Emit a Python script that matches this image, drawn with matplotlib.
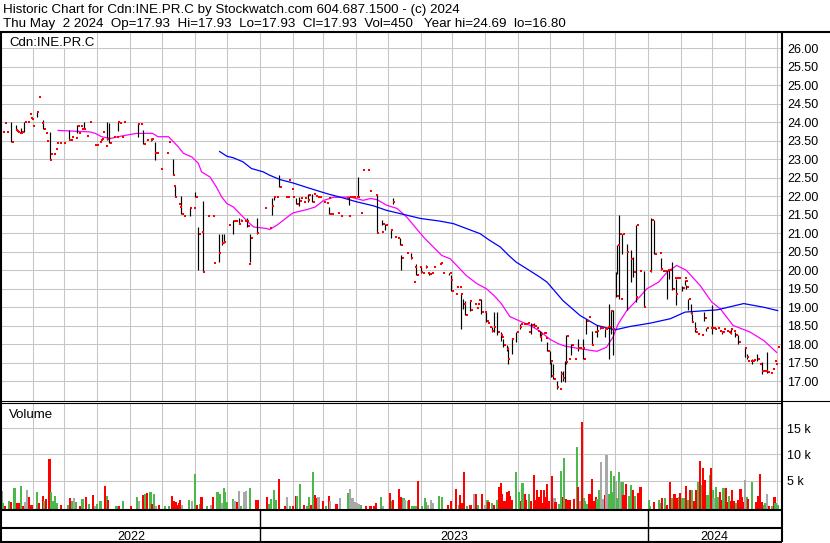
import numpy as np
import pandas as pd
import matplotlib
matplotlib.use("Agg")
import matplotlib.pyplot as plt
from matplotlib.lines import Line2D
from matplotlib.patches import Rectangle
from matplotlib.ticker import FormatStrFormatter
from matplotlib.transforms import ScaledTranslation

plt.rcParams['font.family'] = ['Liberation Sans', 'DejaVu Sans']

# --- data (day = days since 2022-05-02) ---
start_date = '2022-05-02'

close_day = [2, 4, 6, 10, 14, 15, 16, 18, 19, 20, 22, 25, 27, 28, 29, 30, 34, 36, 38, 40,
             42, 43, 46, 47, 50, 52, 53, 55, 59, 64, 66, 67, 70, 72, 73, 75, 76, 78, 81, 84,
             88, 90, 93, 94, 95, 96, 99, 100, 102, 106, 109, 110, 112, 114, 116, 129, 132, 134, 137, 141,
             142, 145, 147, 150, 156, 158, 162, 163, 164, 167, 168, 170, 172, 178, 181, 183, 186, 189, 190, 195,
             199, 200, 205, 208, 210, 214, 219, 221, 224, 226, 229, 231, 232, 233, 235, 241, 248, 253, 255, 257,
             260, 262, 268, 270, 271, 274, 275, 278, 281, 282, 285, 286, 289, 290, 293, 294, 296, 298, 300, 304,
             307, 308, 309, 311, 317, 320, 325, 327, 328, 330, 332, 335, 336, 339, 340, 345, 347, 353, 354, 358,
             359, 362, 367, 369, 371, 373, 376, 377, 382, 386, 388, 389, 391, 394, 395, 397, 400, 402, 403, 405,
             407, 413, 414, 416, 422, 423, 424, 428, 429, 432, 433, 435, 437, 441, 442, 446, 448, 449, 450, 452,
             455, 457, 458, 460, 462, 464, 467, 470, 471, 473, 476, 477, 481, 485, 488, 489, 492, 494, 496, 497,
             499, 501, 502, 504, 505, 507, 508, 511, 512, 513, 514, 517, 518, 520, 523, 526, 527, 529, 531, 532,
             534, 537, 540, 543, 545, 547, 548, 551, 553, 556, 559, 561, 563, 564, 565, 568, 569, 571, 572, 574,
             576, 579, 580, 582, 583, 585, 589, 593, 595, 597, 598, 601, 605, 610, 612, 615, 620, 621, 623, 625,
             627, 629, 632, 634, 635, 636, 638, 641, 643, 644, 645, 647, 649, 650, 653, 654, 656, 659, 662, 664,
             668, 669, 671, 672, 674, 676, 678, 679, 680, 683, 685, 686, 687, 689, 691, 694, 700, 702, 703, 705,
             707, 708, 712, 714, 716, 718, 719, 720, 721, 724, 726, 728, 729, 731]
close_px = [23.74, 23.99, 23.74, 23.47, 23.79, 23.77, 23.75, 23.72, 23.72, 23.75, 24.00, 24.00, 24.23, 24.12, 24.10, 23.90, 24.27, 24.69, 23.99, 23.83,
            23.70, 23.50, 22.98, 23.15, 23.15, 23.28, 23.45, 23.45, 23.45, 23.52, 23.52, 23.60, 23.58, 23.90, 23.70, 23.90, 23.83, 23.83, 23.62, 24.01,
            23.38, 23.38, 23.47, 23.52, 23.56, 23.74, 23.36, 23.56, 23.43, 23.59, 23.59, 24.00, 23.98, 23.59, 24.00, 23.95, 23.95, 23.41, 23.52, 23.52,
            23.54, 23.17, 23.17, 22.73, 23.17, 23.47, 22.57, 22.28, 21.98, 21.78, 21.70, 21.53, 21.46, 21.68, 21.68, 21.98, 20.97, 21.03, 19.95, 21.47,
            21.47, 20.20, 20.47, 20.75, 20.77, 21.22, 21.33, 21.33, 21.26, 21.33, 21.33, 21.33, 21.19, 20.18, 20.87, 21.00, 21.68, 21.13, 21.74, 21.98,
            21.98, 22.25, 21.98, 21.98, 22.43, 22.19, 21.98, 21.80, 21.88, 21.96, 21.85, 21.96, 21.90, 22.03, 21.85, 22.07, 22.00, 21.98, 21.98, 21.85,
            21.82, 21.94, 21.53, 21.53, 21.55, 21.46, 21.96, 21.46, 21.98, 21.98, 21.98, 21.98, 21.98, 21.55, 22.72, 22.72, 22.14, 22.03, 21.01, 21.03,
            21.26, 21.22, 21.10, 21.85, 20.90, 20.87, 20.67, 20.33, 20.47, 20.33, 19.68, 20.09, 19.87, 20.10, 19.95, 19.92, 20.09, 19.92, 19.90, 19.92,
            20.09, 20.16, 20.20, 19.93, 19.92, 19.75, 19.44, 19.35, 19.56, 19.56, 19.36, 19.10, 18.80, 19.17, 18.93, 19.08, 18.97, 19.08, 19.20, 18.87,
            18.87, 18.62, 18.57, 18.48, 18.37, 18.48, 18.33, 18.24, 18.19, 17.99, 17.88, 17.60, 18.15, 18.33, 18.46, 18.55, 18.55, 18.55, 18.57, 18.33,
            18.52, 18.50, 18.50, 18.44, 18.37, 18.19, 18.28, 18.30, 18.30, 18.17, 17.83, 17.55, 17.13, 17.06, 16.85, 16.80, 17.20, 17.10, 17.51, 18.21,
            17.60, 17.99, 17.60, 17.90, 17.90, 17.90, 17.60, 18.64, 18.73, 17.97, 18.33, 18.37, 18.44, 18.45, 18.45, 18.45, 18.42, 18.48, 18.48, 18.90,
            18.42, 19.30, 20.67, 20.99, 19.23, 20.99, 20.49, 20.31, 19.95, 19.27, 21.22, 19.98, 19.02, 19.98, 21.37, 20.45, 20.47, 20.04, 19.98, 19.98,
            20.00, 20.00, 19.50, 19.80, 19.35, 19.80, 19.80, 19.52, 19.80, 19.70, 19.56, 19.23, 18.85, 18.60, 18.40, 18.33, 18.28, 18.24, 18.72, 18.44,
            18.45, 18.45, 18.45, 18.42, 18.44, 18.37, 18.33, 18.33, 18.42, 18.37, 18.34, 18.30, 18.42, 18.37, 18.26, 18.05, 17.90, 17.65, 17.56, 17.56,
            17.56, 17.57, 17.60, 17.47, 17.29, 17.29, 17.27, 17.29, 17.24, 17.21, 17.33, 17.56, 17.47, 17.93]

bar_day = [10, 14, 19, 22, 34, 40, 46, 64, 72, 78, 100, 102, 110, 129, 134, 141, 145, 162, 164, 170,
           178, 183, 186, 190, 205, 208, 210, 219, 224, 226, 232, 235, 241, 255, 257, 262, 278, 281, 289, 293,
           309, 328, 336, 354, 359, 362, 367, 369, 376, 377, 386, 391, 395, 400, 403, 422, 424, 433, 435, 437,
           442, 452, 457, 462, 464, 467, 471, 473, 476, 477, 481, 485, 489, 499, 502, 507, 508, 514, 517, 518,
           520, 523, 527, 529, 531, 532, 537, 543, 548, 551, 556, 561, 564, 569, 572, 574, 576, 579, 580, 582,
           585, 589, 593, 595, 598, 605, 612, 615, 621, 627, 629, 632, 635, 641, 644, 645, 647, 649, 650, 653,
           662, 664, 669, 679, 687, 691, 694, 700, 702, 707, 712, 716, 721]
bar_hi = [24.00, 23.92, 23.85, 24.00, 24.27, 24.06, 23.74, 23.79, 23.92, 24.00, 24.00, 23.98, 24.00, 23.97, 23.79, 23.57, 23.47, 23.00, 22.28, 22.00,
          21.68, 22.12, 21.17, 21.87, 20.99, 20.99, 20.99, 21.35, 21.40, 21.38, 21.42, 20.99, 21.40, 21.94, 21.98, 22.57, 21.95, 21.97, 22.07, 22.07,
          21.71, 21.98, 22.51, 22.03, 21.37, 21.26, 21.10, 21.96, 20.87, 20.40, 20.47, 20.16, 20.10, 20.13, 19.93, 19.92, 19.88, 19.37, 19.23, 19.18,
          19.18, 19.23, 18.87, 18.46, 18.87, 18.87, 18.33, 18.15, 17.99, 17.92, 18.17, 18.33, 18.55, 18.57, 18.57, 18.37, 18.33, 18.05, 17.83, 17.51,
          17.47, 17.02, 17.29, 17.29, 17.56, 18.24, 18.00, 18.15, 18.15, 18.69, 18.37, 18.51, 18.45, 18.42, 19.10, 18.92, 18.92, 19.95, 20.67, 21.49,
          20.99, 20.72, 20.54, 20.36, 21.22, 19.98, 21.40, 21.35, 20.34, 20.00, 20.00, 20.22, 19.77, 19.57, 19.73, 19.60, 19.23, 19.10, 18.82, 18.60,
          18.87, 18.44, 19.05, 18.37, 18.42, 18.33, 18.24, 17.92, 17.74, 17.60, 17.74, 17.51, 17.78]
bar_lo = [23.47, 23.79, 23.72, 23.75, 24.15, 23.83, 22.98, 23.52, 23.70, 23.83, 23.52, 23.43, 23.76, 23.61, 23.41, 23.50, 22.98, 22.57, 21.98, 21.53,
          21.46, 21.98, 20.00, 19.95, 20.22, 20.69, 20.75, 20.99, 21.26, 21.33, 21.17, 20.22, 20.99, 21.49, 21.90, 22.25, 21.80, 21.74, 21.85, 21.85,
          21.53, 21.76, 21.98, 21.01, 21.22, 21.10, 20.88, 21.78, 20.67, 20.00, 20.31, 19.86, 19.92, 20.05, 19.88, 19.86, 19.44, 18.42, 18.96, 18.78,
          18.90, 18.82, 18.60, 18.33, 18.33, 18.24, 18.10, 17.92, 17.83, 17.47, 17.74, 18.05, 18.40, 18.28, 18.46, 18.19, 18.10, 17.83, 17.47, 17.11,
          17.06, 16.79, 16.97, 17.02, 16.97, 17.47, 17.70, 17.83, 17.60, 18.28, 17.97, 18.19, 18.42, 18.19, 17.60, 18.28, 17.70, 19.27, 19.91, 19.23,
          20.45, 18.92, 19.68, 19.81, 19.14, 19.02, 19.95, 20.45, 20.00, 19.23, 19.77, 19.46, 19.05, 19.45, 19.60, 19.50, 18.92, 18.82, 18.60, 18.33,
          18.64, 18.37, 18.28, 18.28, 18.28, 18.20, 18.01, 17.65, 17.60, 17.47, 17.56, 17.20, 17.21]

# short moving average (magenta)
ma_short_day = [54, 84, 89, 95, 103, 114, 128, 143, 148, 158, 167, 172, 180, 186, 189, 197, 203, 208, 213, 219,
                225, 233, 238, 250, 253, 260, 269, 275, 288, 296, 304, 313, 329, 341, 348, 354, 363, 373, 382, 391,
                399, 407, 415, 423, 432, 438, 448, 457, 464, 471, 479, 489, 498, 507, 517, 525, 531, 545, 561, 570,
                576, 581, 589, 598, 608, 619, 627, 636, 645, 658, 669, 677, 689, 705, 718, 730]
ma_short_val = [23.78, 23.74, 23.70, 23.61, 23.56, 23.63, 23.70, 23.70, 23.61, 23.61, 23.34, 23.16, 23.06, 22.89, 22.66, 22.52, 22.25, 21.98, 21.80, 21.71,
                21.53, 21.30, 21.17, 21.13, 21.10, 21.22, 21.42, 21.55, 21.64, 21.71, 21.89, 21.97, 21.98, 21.89, 21.94, 21.91, 21.76, 21.67, 21.44, 21.13,
                20.86, 20.63, 20.40, 20.31, 20.04, 19.86, 19.64, 19.50, 19.32, 19.10, 18.75, 18.62, 18.51, 18.36, 18.13, 18.01, 17.95, 17.88, 17.81, 17.92,
                18.19, 18.55, 18.91, 19.18, 19.50, 19.68, 19.95, 20.13, 20.00, 19.59, 19.14, 18.96, 18.51, 18.33, 18.10, 17.78]

# long moving average (blue)
ma_long_day = [206, 213, 219, 228, 236, 247, 253, 263, 275, 288, 307, 319, 335, 351, 363, 379, 395, 413, 426, 438,
               451, 460, 470, 478, 485, 495, 507, 514, 529, 545, 561, 578, 592, 611, 630, 644, 674, 699, 718, 731]
ma_long_val = [23.21, 23.08, 23.04, 22.93, 22.75, 22.66, 22.57, 22.45, 22.36, 22.24, 22.07, 21.98, 21.85, 21.74, 21.62, 21.51, 21.40, 21.33, 21.26, 21.13,
               20.99, 20.81, 20.63, 20.40, 20.22, 20.04, 19.82, 19.68, 19.18, 18.78, 18.51, 18.39, 18.48, 18.57, 18.69, 18.87, 18.93, 19.10, 19.00, 18.91]

# volume: direction 1 = up (green), -1 = down (red), 0 = unchanged (grey)
vol_day = [1, 2, 4, 8, 10, 13, 15, 17, 19, 21, 23, 25, 27, 29, 34, 36, 40, 41, 43, 46,
           47, 49, 51, 53, 57, 63, 65, 67, 69, 71, 75, 77, 80, 83, 87, 89, 91, 94, 98, 100,
           101, 109, 111, 115, 123, 128, 130, 134, 136, 138, 141, 142, 144, 146, 149, 155, 158, 161, 163, 165,
           166, 168, 169, 171, 177, 180, 183, 185, 188, 189, 194, 198, 200, 204, 206, 208, 210, 211, 213, 219,
           220, 222, 224, 226, 229, 231, 235, 240, 242, 251, 253, 254, 257, 259, 262, 268, 269, 272, 275, 278,
           279, 282, 285, 288, 290, 292, 294, 296, 297, 299, 303, 306, 309, 310, 316, 319, 327, 329, 331, 333,
           335, 337, 339, 344, 348, 351, 353, 358, 360, 366, 368, 369, 375, 377, 379, 380, 383, 384, 387, 389,
           391, 393, 396, 399, 400, 402, 405, 407, 412, 415, 421, 424, 428, 431, 432, 434, 436, 439, 442, 445,
           447, 449, 453, 456, 458, 459, 462, 464, 467, 469, 471, 472, 474, 476, 478, 479, 481, 485, 488, 490,
           491, 493, 494, 497, 499, 502, 503, 505, 507, 508, 510, 511, 513, 514, 516, 519, 521, 522, 525, 527,
           529, 530, 532, 534, 536, 539, 542, 543, 545, 547, 549, 550, 552, 554, 556, 558, 560, 561, 563, 565,
           567, 569, 570, 572, 574, 576, 577, 579, 580, 582, 583, 585, 586, 588, 591, 593, 595, 597, 600, 602,
           610, 611, 615, 619, 620, 622, 625, 627, 630, 632, 634, 636, 638, 639, 641, 642, 644, 645, 647, 649,
           650, 652, 654, 656, 658, 660, 661, 663, 665, 667, 668, 670, 671, 673, 675, 677, 679, 680, 682, 684,
           685, 687, 688, 690, 692, 694, 696, 697, 699, 700, 702, 703, 707, 711, 713, 714, 716, 718, 719, 721,
           723, 726, 728, 729, 731]
vol_qty = [3030, 680, 80, 1130, 870, 3540, 680, 810, 3990, 240, 870, 3220, 1890, 360, 2840, 810, 2080, 1130, 1510, 9140,
           2840, 1130, 2140, 680, 360, 360, 1630, 1130, 1630, 1000, 170, 1510, 1950, 490, 2270, 240, 490, 1130, 3990, 2080,
           1250, 170, 80, 1130, 80, 1890, 1130, 2270, 2460, 2590, 2780, 620, 2460, 240, 360, 80, 80, 2080, 1130, 870,
           360, 680, 1250, 360, 1250, 1130, 6280, 360, 620, 1890, 80, 360, 1890, 2840, 2400, 740, 3610, 2910, 935, 1440,
           1130, 1000, 3030, 170, 2910, 3030, 3540, 1250, 1250, 1950, 490, 1440, 3220, 1250, 5320, 80, 1890, 80, 170, 2080,
           2080, 4310, 360, 80, 1950, 360, 6660, 2270, 1630, 1950, 1130, 170, 2140, 1130, 490, 1630, 2590, 3420, 1630, 1000,
           810, 620, 360, 80, 170, 170, 680, 1950, 80, 2590, 1130, 1250, 3420, 1830, 1630, 1250, 1130, 1250, 170, 170,
           170, 4940, 170, 1630, 870, 360, 1320, 680, 2080, 1950, 360, 1130, 3420, 360, 2270, 680, 6660, 240, 360, 2460,
           2400, 360, 2460, 360, 1320, 870, 680, 360, 1250, 3860, 4500, 2400, 1130, 2910, 3030, 2140, 1250, 6660, 2910, 1130,
           4620, 2460, 1250, 2460, 1130, 6090, 1250, 3220, 1950, 3220, 810, 3220, 1950, 4310, 1130, 5900, 1760, 870, 620, 6850,
           1950, 9400, 1510, 1320, 1320, 1510, 11430, 3860, 1130, 16270, 1630, 1130, 620, 2460, 5320, 1130, 1950, 1510, 3220, 8570,
           1440, 2270, 9900, 2520, 6850, 2910, 5900, 4940, 1630, 6600, 4820, 4750, 2270, 4310, 2080, 4180, 3220, 2080, 2720, 3860,
           1250, 170, 1000, 1320, 810, 1760, 1630, 360, 4750, 1760, 2520, 1630, 1830, 2720, 1700, 1760, 1760, 4050, 1250, 3220,
           3220, 1190, 3220, 4690, 8820, 4180, 7490, 5130, 2270, 6090, 7490, 3220, 1630, 3860, 1950, 2780, 1250, 3670, 3540, 1000,
           2080, 1130, 3220, 1130, 810, 1320, 3350, 1950, 870, 5130, 1950, 1440, 4750, 870, 2080, 6280, 1000, 360, 680, 2460,
           170, 170, 1950, 810, 450]
vol_dir = [0, 1, -1, 1, -1, 1, -1, -1, 1, -1, 0, 0, -1, -1, 1, -1, -1, 1, -1, -1,
           1, 1, 1, 1, -1, 1, -1, 1, 0, 1, -1, 1, -1, 1, -1, 0, 1, 1, -1, 1,
           -1, 1, -1, 1, -1, 1, 0, -1, 1, -1, 1, -1, 1, 0, -1, 1, 1, -1, -1, -1,
           -1, -1, -1, 0, 1, 0, 1, -1, 1, -1, 1, 0, -1, 1, 1, 0, 1, 1, 1, 1,
           0, -1, 0, 1, 0, 0, 1, -1, -1, -1, 1, 1, 1, 1, -1, -1, 0, 1, -1, -1,
           1, 1, -1, 1, 1, -1, 1, -1, -1, 0, -1, 1, -1, 0, -1, 0, 1, 0, 0, 0,
           0, 0, 1, -1, -1, -1, -1, 1, 0, -1, 1, -1, -1, -1, 1, 0, 1, -1, 1, 1,
           1, -1, 1, 1, 1, 0, 0, 0, 1, 1, -1, -1, -1, 1, -1, -1, -1, 1, -1, 0,
           -1, 1, -1, 0, 1, -1, 1, -1, 1, -1, -1, -1, -1, -1, -1, -1, -1, 1, 1, -1,
           1, -1, -1, 1, -1, -1, -1, -1, -1, -1, -1, -1, -1, -1, -1, -1, 0, -1, 1, 1,
           -1, 1, -1, -1, -1, -1, 1, -1, 0, -1, 1, 1, 1, -1, -1, -1, -1, 1, 1, 0,
           0, -1, 0, 1, 1, 1, 1, 0, 1, 1, 0, 1, -1, -1, 1, 1, -1, 1, -1, -1,
           1, 1, -1, 1, 1, -1, 1, -1, -1, 1, -1, -1, 1, -1, 1, 1, 1, -1, 1, -1,
           1, -1, -1, 1, -1, 1, -1, -1, 1, 1, -1, 1, 0, 1, 1, -1, -1, 1, -1, -1,
           1, -1, -1, -1, 1, -1, -1, -1, -1, 0, 1, -1, 1, -1, -1, -1, -1, 1, 1, 0,
           -1, 1, -1, 1, 1]

price_ticks = np.arange(17.0, 26.01, 0.5)
vol_ticks = [5000, 10000, 15000]
vol_tick_labels = ['5 k', '10 k', '15 k']
year_names = ['2022', '2023', '2024']

title_1 = 'Historic Chart for Cdn:INE.PR.C by Stockwatch.com 604.687.1500 - (c) 2024'
title_2 = 'Thu May  2 2024  Op=17.93  Hi=17.93  Lo=17.93  Cl=17.93  Vol=450   Year hi=24.69  lo=16.80'

# --- layout (pixels) ---
W, H = 830, 543
fig = plt.figure(figsize=(W / 100, H / 100), dpi=100)
fig.patch.set_facecolor('white')


def box(l, t, r, b):
    return [l / W, 1 - b / H, (r - l) / W, (b - t) / H]


def fig_line(x0, y0, x1, y1, lw):
    fig.add_artist(Line2D([x0 / W, x1 / W], [1 - y0 / H, 1 - y1 / H], color='black',
                          lw=lw, transform=fig.transFigure, solid_capstyle='butt', zorder=5))


base = pd.Timestamp(start_date)
month_days = [(d - base).days for d in pd.date_range('2022-06-01', '2024-05-01', freq='MS')]
year_days = [(d - base).days for d in pd.date_range('2023-01-01', '2024-01-01', freq='YS')]
x_lo, x_hi = 1.3, 734.6

grid_kw = dict(color='#c6c6c6', lw=0.75)
vol_colors = {1: '#4cb84c', -1: '#ff0000', 0: '#a8a8a8'}

# price panel
ax = fig.add_axes(box(2, 32, 781.5, 400.5))
ax.set_xlim(x_lo, x_hi)
ax.set_ylim(16.48, 26.44)
ax.set_xticks(month_days)
ax.set_yticks(price_ticks)
ax.grid(True, **grid_kw)
ax.set_axisbelow(True)
ax.yaxis.set_major_formatter(FormatStrFormatter('%.2f'))
ax.tick_params(length=0, labelbottom=False, labelleft=False, labelright=True, pad=4, labelsize=9)
for s in ax.spines.values():
    s.set_visible(False)

ax.vlines(bar_day, bar_lo, bar_hi, color='black', lw=0.85, zorder=3)
shift = ax.transData + ScaledTranslation(0.015, 0, fig.dpi_scale_trans)
ax.plot(close_day, close_px, 's', color='#ff0000', ms=1.9, mew=0, transform=shift,
        antialiased=False, zorder=4)
ax.plot(ma_short_day, ma_short_val, color='#ff00ff', lw=0.9, zorder=2)
ax.plot(ma_long_day, ma_long_val, color='#0000ff', lw=0.9, zorder=2)

# volume panel
vol_bottom = -496
axv = fig.add_axes(box(2, 403, 781.5, 509.5))
axv.set_xlim(x_lo, x_hi)
axv.set_ylim(vol_bottom, 19828)
axv.set_xticks(month_days)
axv.set_yticks(vol_ticks)
axv.set_yticklabels(vol_tick_labels)
axv.grid(True, **grid_kw)
axv.set_axisbelow(True)
axv.tick_params(length=0, labelbottom=False, labelleft=False, labelright=True, pad=4, labelsize=9)
for s in axv.spines.values():
    s.set_visible(False)
axv.bar(vol_day, np.array(vol_qty) - vol_bottom, bottom=vol_bottom, width=2.0,
        color=[vol_colors[d] for d in vol_dir], linewidth=0)

# date band
axd = fig.add_axes(box(2, 509.5, 781.5, 541.5))
axd.set_xlim(x_lo, x_hi)
axd.set_ylim(0, 1)
axd.axis('off')
axd.vlines(year_days, 0, 1, color='black', lw=1.0)
edges = [x_lo] + year_days + [x_hi]
for i, name in enumerate(year_names):
    axd.text((edges[i] + edges[i + 1]) / 2, 0.0625, name, ha='center', va='baseline', fontsize=9)

# labels
fig.add_artist(Rectangle((2 / W, 1 - 48 / H), 93 / W, 16 / H, transform=fig.transFigure,
                         facecolor='white', edgecolor='none', zorder=3))
fig.text(9 / W, 1 - 45.7 / H, 'Cdn:INE.PR.C', fontsize=9.5, va='baseline', zorder=4)
fig.text(9 / W, 1 - 418.3 / H, 'Volume', fontsize=9.5, va='baseline', zorder=4)
fig.text(3 / W, 1 - 12.5 / H, title_1, fontsize=9.6, va='baseline')
fig.text(3 / W, 1 - 27.5 / H, title_2, fontsize=9.6, va='baseline')

# frame lines
fig_line(0, 31.5, W, 31.5, 1.5)
fig_line(1, 31.5, 1, 542, 1.5)
fig_line(781.5, 31.5, 781.5, 542, 1.5)
fig_line(0, 401, W, 401, 0.8)
fig_line(0, 403, 781.5, 403, 0.8)
fig_line(0, 509.5, 781.5, 509.5, 1.5)
fig_line(0, 527.5, 781.5, 527.5, 1.5)
fig_line(0, 541.7, 781.5, 541.7, 1.5)

fig.savefig('out.png', dpi=100)
